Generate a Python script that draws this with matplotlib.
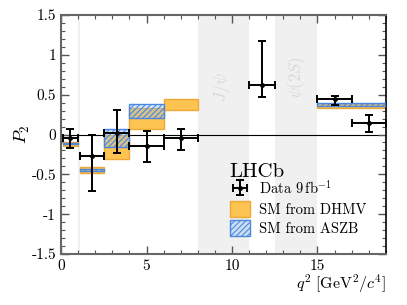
import numpy as np
import matplotlib.pyplot as plt
from matplotlib.patches import Rectangle, Patch
from matplotlib.ticker import MultipleLocator

plt.rcParams['font.family'] = 'serif'
plt.rcParams['font.serif'] = ['cmr10']
plt.rcParams['mathtext.fontset'] = 'cm'
plt.rcParams['axes.unicode_minus'] = False
plt.rcParams['hatch.linewidth'] = 0.8

# q2 bins of the measurement
bin_lo = [0.1, 1.1, 2.5, 4.0, 6.0, 11.0, 15.0, 17.0]
bin_hi = [0.98, 2.5, 4.0, 6.0, 8.0, 12.5, 17.0, 19.0]
p2 = [-0.04, -0.27, 0.025, -0.14, -0.05, 0.62, 0.44, 0.14]
err_up = [0.115, 0.27, 0.28, 0.19, 0.12, 0.55, 0.045, 0.10]
err_dn = [0.135, 0.44, 0.26, 0.21, 0.14, 0.15, 0.07, 0.11]

# SM predictions [lo, hi, min, max]
dhmv_lo = [0.1, 1.1, 2.5, 4.0, 6.0, 15.0]
dhmv_hi = [0.98, 2.5, 4.0, 6.0, 8.0, 19.0]
dhmv_min = [-0.14, -0.48, -0.31, 0.075, 0.31, 0.335]
dhmv_max = [-0.09, -0.41, 0.0, 0.33, 0.45, 0.385]

aszb_lo = [0.1, 1.1, 2.5, 4.0, 15.0]
aszb_hi = [0.98, 2.5, 4.0, 6.0, 19.0]
aszb_min = [-0.125, -0.455, -0.155, 0.21, 0.36]
aszb_max = [-0.105, -0.435, 0.065, 0.38, 0.40]

# vetoed resonance regions
vetoes = [(0.98, 1.1), (8.0, 11.0), (12.5, 15.0)]

fig = plt.figure(figsize=(4.07, 3.05), dpi=100)
ax = fig.add_axes([0.150, 0.167, 0.798, 0.784])

for a, b in vetoes:
    ax.axvspan(a, b, color='#f0f0f0', lw=0, zorder=0)
ax.text(9.4, 0.6, r'$J/\psi$', rotation=90, color='#d8d8d8', fontsize=12,
        ha='center', va='center')
ax.text(13.8, 0.71, r'$\psi(2S)$', rotation=90, color='#d8d8d8', fontsize=12,
        ha='center', va='center')

ax.axhline(0, color='black', lw=0.8, zorder=1)

orange_face = '#fdc451'
orange_edge = '#eea838'
blue_edge = '#4a88e0'

for a, b, lo, hi in zip(dhmv_lo, dhmv_hi, dhmv_min, dhmv_max):
    ax.add_patch(Rectangle((a, lo), b - a, hi - lo, facecolor=orange_face,
                           edgecolor=orange_edge, lw=1, zorder=2))
for a, b, lo, hi in zip(aszb_lo, aszb_hi, aszb_min, aszb_max):
    ax.add_patch(Rectangle((a, lo), b - a, hi - lo, facecolor=(0.55, 0.75, 0.98, 0.35),
                           edgecolor=blue_edge, hatch='//////', lw=1, zorder=3))

xc = [(a + b) / 2 for a, b in zip(bin_lo, bin_hi)]
xe = [(b - a) / 2 for a, b in zip(bin_lo, bin_hi)]
eb = ax.errorbar(xc, p2, xerr=xe, yerr=[err_dn, err_up], fmt='o', ms=2.5,
                 color='black', ecolor='black', elinewidth=1.4, capsize=3,
                 capthick=1.4, zorder=5)

ax.set_xlim(0, 19)
ax.set_ylim(-1.5, 1.5)
ax.xaxis.set_minor_locator(MultipleLocator(1))
ax.yaxis.set_minor_locator(MultipleLocator(0.1))
ax.set_xticks([0, 5, 10, 15])
ax.set_xticklabels(['0', '5', '10', '15'])
ax.set_yticks([-1.5, -1, -0.5, 0, 0.5, 1, 1.5])
ax.set_yticklabels(['-1.5', '-1', '-0.5', '0', '0.5', '1', '1.5'])
ax.tick_params(which='both', direction='in', top=True, right=True,
               labelsize=11, color='#555555')
ax.tick_params(which='major', length=6, width=1)
ax.tick_params(which='minor', length=3, width=0.8)
for s in ['left', 'bottom', 'top']:
    ax.spines[s].set_color('#666666')
    ax.spines[s].set_linewidth(1.5)
ax.spines['right'].set_color('black')
ax.spines['right'].set_linewidth(1.2)

ax.set_ylabel(r'$P_2$', fontsize=13, labelpad=0)
ax.set_xlabel(r'$q^2\ [\mathrm{GeV}^2/c^4]$', fontsize=11.5, loc='right',
              labelpad=0)

ax.text(9.85, -0.47, 'LHCb', fontsize=15, ha='left', va='center')

handles = [eb,
           Patch(facecolor=orange_face, edgecolor=orange_edge),
           Patch(facecolor=(0.55, 0.75, 0.98, 0.35), edgecolor=blue_edge, hatch='//////')]
labels = [r'Data $9\,\mathrm{fb}^{-1}$', 'SM from DHMV', 'SM from ASZB']
leg = ax.legend(handles, labels, loc='lower left',
                bbox_to_anchor=(0.52, 0.075), frameon=False, fontsize=10.5,
                handlelength=1.4, handleheight=1.3, labelspacing=0.25,
                handletextpad=0.6, borderpad=0, borderaxespad=0)

fig.savefig('out.png', dpi=100)
